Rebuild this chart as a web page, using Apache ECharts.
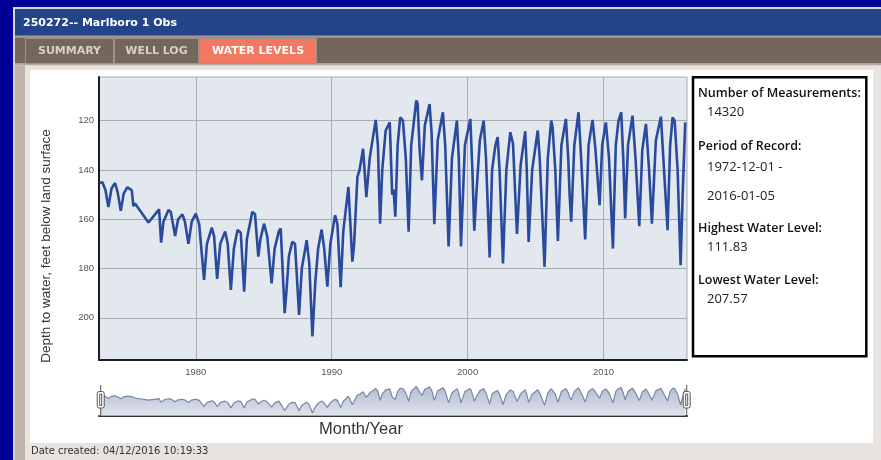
<!DOCTYPE html>
<html><head><meta charset="utf-8">
<script src="https://cdn.jsdelivr.net/npm/echarts@6/dist/echarts.min.js"></script>
<style>html,body{margin:0;padding:0;background:#000099;overflow:hidden}#c{width:881px;height:460px}</style>
</head><body><div id="c"></div>
<script>
// [decimal year, depth to water (ft below land surface)]
const waterLevels = [
 [1972.92,145.3],[1973.13,145.0],[1973.35,148.0],[1973.57,155.0],[1973.80,147.5],[1974.06,145.3],[1974.25,149.0],[1974.48,156.6],[1974.70,149.5],[1974.97,147.0],[1975.29,148.3],[1975.41,154.7],[1975.53,153.6],[1976.52,161.3],[1977.30,156.0],[1977.45,169.5],[1977.62,161.0],[1977.99,156.3],[1978.16,157.0],[1978.48,166.8],[1978.70,160.0],[1979.02,158.0],[1979.20,161.0],[1979.46,170.0],[1979.70,161.0],[1980.00,157.7],[1980.25,162.0],[1980.61,184.6],[1980.82,170.0],[1981.18,163.4],[1981.35,167.0],[1981.57,184.2],[1981.80,170.0],[1982.16,165.0],[1982.35,170.0],[1982.58,188.7],[1982.80,172.0],[1983.07,164.4],[1983.31,165.5],[1983.56,189.4],[1983.76,168.0],
 [1984.16,157.0],[1984.36,158.0],[1984.60,175.2],[1984.76,168.0],[1985.02,161.8],[1985.26,167.0],[1985.58,186.0],[1985.80,172.0],[1986.12,164.7],[1986.25,163.8],[1986.54,198.1],[1986.66,190.0],[1986.85,175.0],[1987.10,169.2],[1987.30,170.0],[1987.60,198.8],[1987.80,180.0],[1988.16,168.5],[1988.35,178.0],[1988.58,207.57],[1988.80,185.0],[1989.00,172.0],[1989.26,164.2],[1989.45,172.0],[1989.68,187.3],[1989.90,170.0],[1990.25,158.4],[1990.42,162.0],[1990.66,187.6],[1990.85,165.0],[1991.23,146.9],[1991.52,177.2],[1991.64,171.0],[1991.89,142.9],[1992.05,140.0],[1992.31,131.4],[1992.55,151.0],[1992.80,135.0],[1993.24,119.7],[1993.40,130.0],[1993.56,161.8],[1993.72,140.0],[1993.97,124.0],[1994.27,120.7],[1994.45,150.0],[1994.55,148.0],[1994.68,159.0],
 [1994.85,130.0],[1995.04,118.7],[1995.24,120.0],[1995.45,135.0],[1995.66,165.1],[1995.85,130.0],[1996.22,111.83],[1996.32,113.0],[1996.47,132.0],[1996.64,144.2],[1996.85,122.0],[1997.20,113.3],[1997.35,125.0],[1997.55,162.0],[1997.80,128.0],[1998.18,116.6],[1998.35,130.0],[1998.60,171.0],[1998.85,135.0],[1999.21,120.0],[1999.35,135.0],[1999.51,171.0],[1999.80,130.0],[2000.20,119.3],[2000.35,140.0],[2000.49,164.7],[2000.64,150.0],[2000.90,128.0],[2001.18,120.0],[2001.35,135.0],[2001.62,175.5],[2001.80,140.0],[2002.04,130.1],[2002.21,126.7],[2002.35,140.0],[2002.60,177.9],[2002.85,140.0],[2003.14,124.7],[2003.34,129.4],[2003.63,166.0],[2003.90,138.0],[2004.24,124.3],[2004.35,140.0],[2004.49,169.2],[2004.75,140.0],[2005.16,124.0],
 [2005.30,135.0],[2005.66,179.3],[2005.90,135.0],[2006.15,120.0],[2006.25,122.7],[2006.45,140.0],[2006.64,168.8],[2006.90,130.0],[2007.23,119.3],[2007.40,135.0],[2007.50,149.6],[2007.62,161.0],[2007.85,130.0],[2008.16,116.6],[2008.35,135.0],[2008.65,168.2],[2008.90,130.0],[2009.19,119.7],[2009.39,130.8],[2009.71,154.3],[2009.90,130.0],[2010.17,120.7],[2010.40,135.0],[2010.69,171.9],[2010.90,130.0],[2011.10,120.0],[2011.30,116.6],[2011.45,135.0],[2011.59,159.7],[2011.80,130.0],[2012.13,118.0],[2012.35,135.0],[2012.63,162.8],[2012.85,132.0],[2013.12,121.3],[2013.35,140.0],[2013.56,161.8],[2013.85,128.0],[2014.22,118.4],[2014.45,140.0],[2014.71,164.4],[2014.90,130.0],[2015.08,118.7],[2015.23,120.0],[2015.45,140.0],[2015.67,178.6],[2015.82,150.0],[2016.01,120.7]
];
const xTicks = [1980, 1990, 2000, 2010];
const yTicks = [120, 140, 160, 180, 200];
const tabNames = ['SUMMARY', 'WELL LOG', 'WATER LEVELS'];
const panelLabels = ['Number of Measurements:', 'Period of Record:', 'Highest Water Level:', 'Lowest Water Level:'];
const panelValues = ['14320', '1972-12-01 -', '2016-01-05', '111.83', '207.57'];

const chart = echarts.init(document.getElementById('c'), null, {renderer: 'canvas'});
const gridFont = 'Liberation Sans, Arial, sans-serif';
const panelFont = 'Open Sans, sans-serif';

const tabs = [
  {x: 25, w: 89, fill: '#73665a', color: '#d6cfca'},
  {x: 114, w: 85, fill: '#73665a', color: '#d6cfca'},
  {x: 199, w: 118, fill: '#f37862', color: '#ffffff'}
];
const graphics = [
  {type: 'rect', z: -20, shape: {x: 13, y: 7, width: 868, height: 453}, style: {fill: '#d9d5d1'}},
  {type: 'rect', z: -19, shape: {x: 15, y: 9, width: 866, height: 27}, style: {fill: '#23438a'}},
  {type: 'rect', z: -19, shape: {x: 15, y: 35.5, width: 866, height: 2}, style: {fill: '#a89c95'}},
  {type: 'rect', z: -19, shape: {x: 15, y: 37.5, width: 866, height: 26}, style: {fill: '#73665a'}},
  {type: 'rect', z: -19, shape: {x: 15, y: 63.5, width: 866, height: 2}, style: {fill: '#b6aba4'}},
  {type: 'rect', z: -19, shape: {x: 15, y: 65.5, width: 866, height: 395}, style: {fill: '#e9e3df'}},
  {type: 'rect', z: -18, shape: {x: 15, y: 65.5, width: 10, height: 395}, style: {fill: '#bfb3ad'}},
  {type: 'rect', z: -18, shape: {x: 30, y: 70, width: 843, height: 373}, style: {fill: '#ffffff'}},
  {type: 'text', z: 10, style: {x: 23, y: 23, text: '250272-- Marlboro 1 Obs', fill: '#ffffff', font: 'bold 11px DejaVu Sans', textVerticalAlign: 'middle'}},
  {type: 'text', z: 10, style: {x: 31, y: 451, text: 'Date created: 04/12/2016 10:19:33', fill: '#333333', font: '10px DejaVu Sans', textVerticalAlign: 'middle'}},
  {type: 'text', z: 10, rotation: Math.PI / 2, x: 46, y: 246, style: {x: 0, y: 0, text: 'Depth to water, feet below land surface', fill: '#333333', font: '13.5px ' + gridFont, textAlign: 'center', textVerticalAlign: 'middle'}},
  {type: 'text', z: 10, style: {x: 361, y: 429, text: 'Month/Year', fill: '#333333', font: '16.5px ' + gridFont, textAlign: 'center', textVerticalAlign: 'middle'}},
  {type: 'rect', z: 5, shape: {x: 693, y: 77.2, width: 173.3, height: 279}, style: {fill: '#ffffff', stroke: '#000000', lineWidth: 2.5}}
];
tabs.forEach((t, i) => {
  graphics.push({type: 'rect', z: -17, shape: {x: t.x + 0.5, y: 38.5, width: t.w - 1, height: 25}, style: {fill: t.fill, stroke: '#9d9189', lineWidth: 1}});
  graphics.push({type: 'text', z: 10, style: {x: t.x + t.w / 2, y: 51, text: tabNames[i], fill: t.color, font: 'bold 11px DejaVu Sans', textAlign: 'center', textVerticalAlign: 'middle'}});
});
const labelY = [93, 146, 228, 280];
const valueY = [112.5, 167, 196, 247, 299];
panelLabels.forEach((s, i) => graphics.push({type: 'text', z: 10, style: {x: 698, y: labelY[i], text: s, fill: '#111111', font: '600 12.5px ' + panelFont, textVerticalAlign: 'middle'}}));
panelValues.forEach((s, i) => graphics.push({type: 'text', z: 10, style: {x: 707, y: valueY[i], text: s, fill: '#222222', font: '13px ' + panelFont, textVerticalAlign: 'middle'}}));

const xMin = 1972.88, xMax = 2016.14;
chart.setOption({
  backgroundColor: '#000099',
  animation: false,
  graphic: graphics,
  grid: [
    {left: 99, top: 77, width: 588, height: 283, show: true, backgroundColor: '#e3e8ef', borderColor: '#a6aaaf', borderWidth: 1},
    {left: 99, top: 385, width: 588, height: 31, show: false}
  ],
  xAxis: [
    {type: 'value', gridIndex: 0, min: xMin, max: xMax,
     axisLine: {show: true, onZero: false, lineStyle: {color: '#1e1e1e', width: 2}},
     axisTick: {show: false, customValues: xTicks},
     axisLabel: {customValues: xTicks, formatter: v => String(Math.round(v)), color: '#555555', fontSize: 9.5, fontFamily: gridFont, margin: 7},
     splitLine: {show: true, lineStyle: {color: '#a9adb2', width: 1}}},
    {type: 'value', gridIndex: 1, min: xMin, max: xMax,
     axisLine: {show: true, onZero: false, lineStyle: {color: '#333333', width: 2}},
     axisTick: {show: false}, axisLabel: {show: false}, splitLine: {show: false}}
  ],
  yAxis: [
    {type: 'value', gridIndex: 0, inverse: true, min: 102.3, max: 217.1,
     axisLine: {show: true, onZero: false, lineStyle: {color: '#1e1e1e', width: 2}},
     axisTick: {show: false, customValues: yTicks},
     axisLabel: {customValues: yTicks, formatter: v => String(Math.round(v)), color: '#555555', fontSize: 9.5, fontFamily: gridFont, margin: 5},
     splitLine: {show: true, lineStyle: {color: '#a9adb2', width: 1}}},
    {type: 'value', gridIndex: 1, inverse: true, min: 107, max: 218, show: false,
     axisLine: {show: false}, axisTick: {show: false}, axisLabel: {show: false}, splitLine: {show: false}}
  ],
  dataZoom: [{
    type: 'slider', xAxisIndex: 1, filterMode: 'none', start: 0, end: 100, zoomLock: true,
    left: 99, right: 194, top: 385, height: 31,
    showDataShadow: false, showDetail: false, brushSelect: false,
    moveHandleSize: 0, moveHandleStyle: {opacity: 0},
    backgroundColor: 'rgba(0,0,0,0)', borderColor: 'rgba(0,0,0,0)', fillerColor: 'rgba(0,0,0,0)',
    handleIcon: 'path://M4,0V8M2.5,8H5.5Q7.5,8 7.5,10V22.5Q7.5,24.5 5.5,24.5H2.5Q0.5,24.5 0.5,22.5V10Q0.5,8 2.5,8ZM3,10.5H5V22H3ZM4,24.5V31',
    handleSize: '100%',
    handleStyle: {color: '#ffffff', borderColor: '#555555', borderWidth: 1},
    emphasis: {handleStyle: {color: '#ffffff', borderColor: '#555555', borderWidth: 1}}
  }],
  series: [
    {type: 'line', xAxisIndex: 0, yAxisIndex: 0, data: waterLevels, showSymbol: false, symbol: 'none',
     lineStyle: {color: '#2a4b9d', width: 2.6}, z: 3},
    {type: 'line', xAxisIndex: 1, yAxisIndex: 1, data: waterLevels, showSymbol: false, symbol: 'none', silent: true,
     lineStyle: {color: '#7788ab', width: 1.2},
     areaStyle: {origin: 'end', color: new echarts.graphic.LinearGradient(0, 0, 0, 1, [{offset: 0, color: '#939fbc'}, {offset: 1, color: '#d3d8e3'}])}}
  ]
});
</script></body></html>
